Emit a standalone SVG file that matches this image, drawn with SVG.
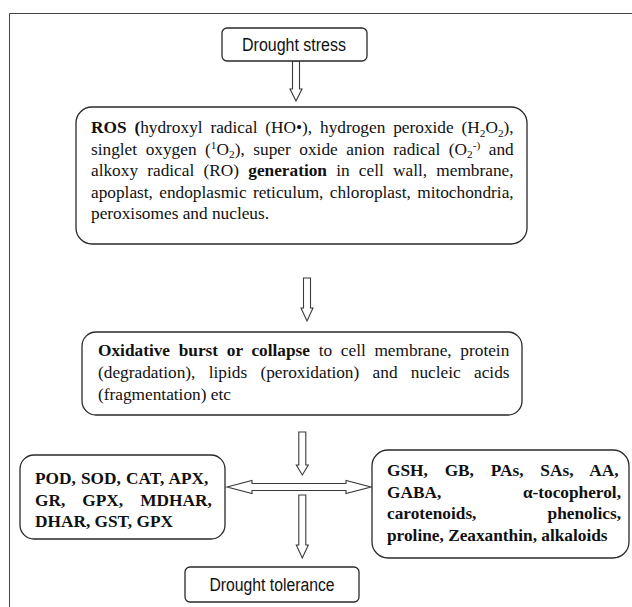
<svg xmlns="http://www.w3.org/2000/svg" width="632" height="607" viewBox="0 0 632 607">
<style>
.box{fill:#fff;stroke:#2a2a2a;stroke-width:1.3}
.arr{fill:#fff;stroke:#3a3a3a;stroke-width:1.1;stroke-linejoin:miter}
.t{font-family:"Liberation Serif","Times New Roman",serif;font-size:17.3px;fill:#111}
.b{font-weight:bold}
.sub{font-size:11.3px}
.s{font-family:"Liberation Sans",Arial,sans-serif;font-size:18px;fill:#111}
</style>
<rect width="632" height="607" fill="#fff"/>
<path d="M9.5,607 V13.5 H632" fill="none" stroke="#444" stroke-width="1"/>

<g id="connectors">
  <path class="arr" d="M292.5,61 H299.5 V89 H302 L296,101 L290,89 H292.5 Z"/>
  <path class="arr" d="M303.5,278 H310.5 V308 H313 L307,321 L301,308 H303.5 Z"/>
  <path class="arr" d="M298.8,432 H305.8 V465 H308.3 L302.3,475 L296.3,465 H298.8 Z"/>
  <path class="arr" d="M298.8,495 H305.8 V545 H308.3 L302.3,558 L296.3,545 H298.8 Z"/>
  <path class="arr" d="M227,487 L252,480.5 V483.5 H346 V480.5 L371,487 L346,493.5 V490.5 H252 V493.5 Z"/>
</g>

<g id="drought-stress">
  <rect class="box" x="222" y="28" width="145" height="33" rx="5"/>
  <text class="s" x="294" y="51" text-anchor="middle" textLength="104" lengthAdjust="spacingAndGlyphs">Drought stress</text>
</g>

<g id="ros">
  <rect class="box" x="76" y="107" width="451" height="137" rx="16"/>
  <text class="t" x="91" y="133" word-spacing="3.55"><tspan class="b">ROS (</tspan>hydroxyl radical (HO•), hydrogen peroxide (H<tspan class="sub" dy="3.5">2</tspan><tspan dy="-3.5">O</tspan><tspan class="sub" dy="3.5">2</tspan><tspan dy="-3.5">),</tspan></text>
  <text class="t" x="91" y="154.5" word-spacing="4.25">singlet oxygen (<tspan class="sub" dy="-6">1</tspan><tspan dy="6">O</tspan><tspan class="sub" dy="3.5">2</tspan><tspan dy="-3.5">), super oxide anion radical (O</tspan><tspan class="sub" dy="3.5">2</tspan><tspan class="sub" dy="-9.5">-)</tspan><tspan dy="6"> and</tspan></text>
  <text class="t" x="91" y="176" word-spacing="4.9">alkoxy radical (RO) <tspan class="b">generation</tspan> in cell wall, membrane,</text>
  <text class="t" x="91" y="197.5" word-spacing="2">apoplast, endoplasmic reticulum, chloroplast, mitochondria,</text>
  <text class="t" x="91" y="219">peroxisomes and nucleus.</text>
</g>

<g id="oxidative">
  <rect class="box" x="82" y="332" width="440" height="83" rx="14"/>
  <text class="t" x="98" y="356" word-spacing="4.36"><tspan class="b">Oxidative burst or collapse</tspan> to cell membrane, protein</text>
  <text class="t" x="98" y="378" word-spacing="8.98">(degradation), lipids (peroxidation) and nucleic acids</text>
  <text class="t" x="98" y="400">(fragmentation) etc</text>
</g>

<g id="enzymes">
  <rect class="box" x="20" y="455" width="205" height="84" rx="14"/>
  <text class="t b" x="35" y="484" word-spacing="0.87">POD, SOD, CAT, APX,</text>
  <text class="t b" x="35" y="505.5" word-spacing="12.8">GR, GPX, MDHAR,</text>
  <text class="t b" x="35" y="527">DHAR, GST, GPX</text>
</g>

<g id="non-enzymes">
  <rect class="box" x="372" y="450" width="257" height="108" rx="16"/>
  <text class="t b" x="387" y="476" word-spacing="12.5">GSH, GB, PAs, SAs, AA,</text>
  <text class="t b" x="387" y="497.5">GABA,</text>
  <text class="t b" x="621" y="497.5" text-anchor="end">α-tocopherol,</text>
  <text class="t b" x="387" y="519">carotenoids,</text>
  <text class="t b" x="621" y="519" text-anchor="end">phenolics,</text>
  <text class="t b" x="387" y="540.5">proline, Zeaxanthin, alkaloids</text>
</g>

<g id="drought-tolerance">
  <rect class="box" x="185" y="567" width="174" height="35" rx="5"/>
  <text class="s" x="272" y="591" text-anchor="middle" textLength="125" lengthAdjust="spacingAndGlyphs">Drought tolerance</text>
</g>
</svg>
